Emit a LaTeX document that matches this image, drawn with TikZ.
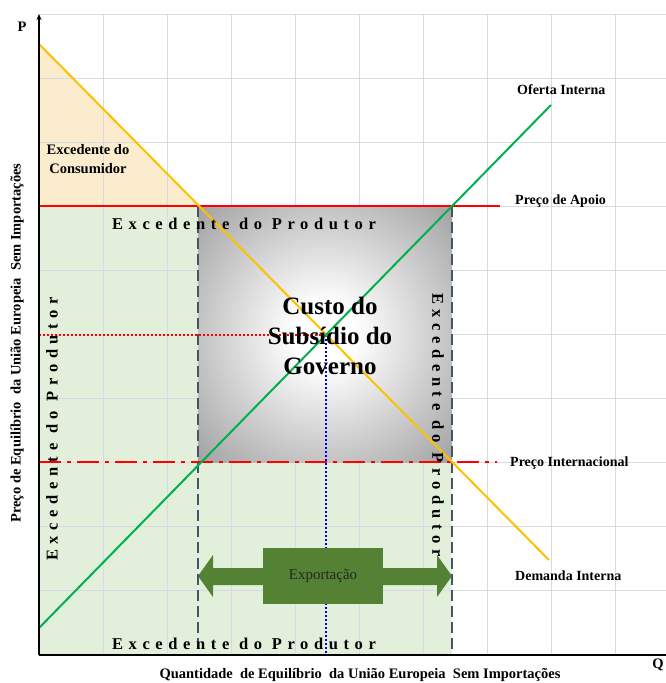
\documentclass[tikz,border=0pt]{standalone}
\usepackage{fontspec}
\setmainfont{Liberation Serif}
\newfontfamily\spacedfont[LetterSpace=34]{Liberation Serif}
\usetikzlibrary{arrows.meta}
\definecolor{gridc}{RGB}{214,218,226}
\definecolor{prodfill}{RGB}{226,239,218}
\definecolor{consfill}{RGB}{252,236,206}
\definecolor{demc}{RGB}{255,192,0}
\definecolor{supc}{RGB}{0,176,80}
\definecolor{redc}{RGB}{255,0,0}
\definecolor{dashc}{RGB}{68,84,106}
\definecolor{expc}{RGB}{84,130,53}
\definecolor{dotblue}{RGB}{0,0,230}
\pgfdeclareradialshading{subsid}{\pgfpoint{0bp}{0bp}}{color(0bp)=(white); color(6bp)=(white); color(50bp)=(black!55); color(72bp)=(black!72)}
\tikzset{
  gridline/.style={gridc, line width=0.8pt},
  curvelbl/.style={anchor=west, inner sep=0pt, font=\bfseries\fontsize{14}{16}\selectfont},
  spacedlbl/.style={inner sep=0pt, font=\spacedfont\bfseries\fontsize{16.5}{18}\selectfont},
  axislbl/.style={inner sep=0pt, font=\bfseries\fontsize{14.5}{16}\selectfont},
}
\begin{document}
\begin{tikzpicture}[x=1pt,y=-1pt]
\useasboundingbox (0,0) rectangle (666,683);
% key coordinates
\coordinate (O) at (39,655);
\coordinate (Ytop) at (39,14);
\coordinate (Xend) at (666,655);
\coordinate (D1) at (39,44);
\coordinate (D2) at (549,560);
\coordinate (S1) at (39,628);
\coordinate (S2) at (551,105);
\coordinate (A1) at (39,206);
\coordinate (A2) at (500,206);
\coordinate (I1) at (39,462);
\coordinate (I2) at (497,462);
\coordinate (C1) at (198,206);
\coordinate (C2) at (452,206);
\coordinate (C3) at (198,462);
\coordinate (C4) at (452,462);
\coordinate (E) at (326,335);
\coordinate (EL) at (39,335);
\coordinate (EB) at (326,655);
\coordinate (B1) at (198,655);
\coordinate (B2) at (452,655);
% fills
\fill[prodfill] (A1) rectangle (B2);
\fill[consfill] (D1) -- (C1) -- (A1) -- cycle;
% grid
\draw[gridline] (39,14) -- (666,14);
\foreach \yy in {78,142,...,590} \draw[gridline] (39,\yy) -- (666,\yy);
\foreach \xx in {103,167,...,615} \draw[gridline] (\xx,14) -- (\xx,655);
% subsidy rectangle
\shade[shading=subsid] (C1) rectangle (C4);
% export arrow
\fill[expc] (198,576) -- (213,555) -- (213,568) -- (437,568) -- (437,555) -- (452,576)
  -- (437,597) -- (437,585) -- (213,585) -- (213,597) -- cycle;
% lines
\draw[redc, line width=1.6pt, dash pattern=on 2pt off 2pt] (EL) -- (E);
\draw[dotblue, line width=1.6pt, dash pattern=on 2pt off 2pt] (E) -- (EB);
\node[fill=expc, minimum width=120pt, minimum height=56pt, inner sep=0pt,
  font=\fontsize{15}{16}\selectfont, text=black!85] (exp) at (323,576) {Exportação};
\draw[dashc, line width=2.2pt, dash pattern=on 11pt off 5pt] (C1) -- (B1);
\draw[dashc, line width=2.2pt, dash pattern=on 11pt off 5pt] (C2) -- (B2);
\draw[redc, line width=2pt] (A1) -- (A2);
\draw[redc, line width=2.6pt, dash pattern=on 22pt off 6pt on 4pt off 6pt] (I1) -- (I2);
\draw[demc, line width=2pt] (D1) -- (D2);
\draw[supc, line width=2pt] (S1) -- (S2);
% axes
\draw[line width=1.4pt] (O) -- (Xend);
\draw[line width=1.4pt, -{Stealth[length=6pt,width=5pt]}] (O) -- (Ytop);
% texts
\node[align=center, inner sep=0pt, font=\bfseries\fontsize{14.5}{19}\selectfont] (cons) at (88,159) {Excedente do\\Consumidor};
\node[align=center, inner sep=0pt, font=\bfseries\fontsize{25}{30}\selectfont] (custo) at (330,336) {Custo do\\Subsídio do\\Governo};
\node[spacedlbl] (ptop) at (244,224) {Excedente do Produtor};
\node[spacedlbl] (pbot) at (244,644) {Excedente do Produtor};
\node[spacedlbl, rotate=90] (pleft) at (52,429) {Excedente do Produtor};
\node[spacedlbl, rotate=-90] (pright) at (438,425) {Excedente do Produtor};
\node[curvelbl] (ofl) at (517,90) {Oferta Interna};
\node[curvelbl] (apl) at (515,201) {Preço de Apoio};
\node[curvelbl] (intl) at (510,463) {Preço Internacional};
\node[curvelbl] (deml) at (515,576) {Demanda Interna};
\node[axislbl] (plbl) at (22,27) {P};
\node[axislbl] (qlbl) at (658,665) {Q};
\node[axislbl, rotate=90] (ylbl) at (17,343) {Preço de Equilíbrio\ \ da União Europeia\ \ Sem Importações};
\node[axislbl] (xlbl) at (360,675) {Quantidade\ \ de Equilíbrio\ \ da União Europeia\ \ Sem Importações};
\end{tikzpicture}
\end{document}
